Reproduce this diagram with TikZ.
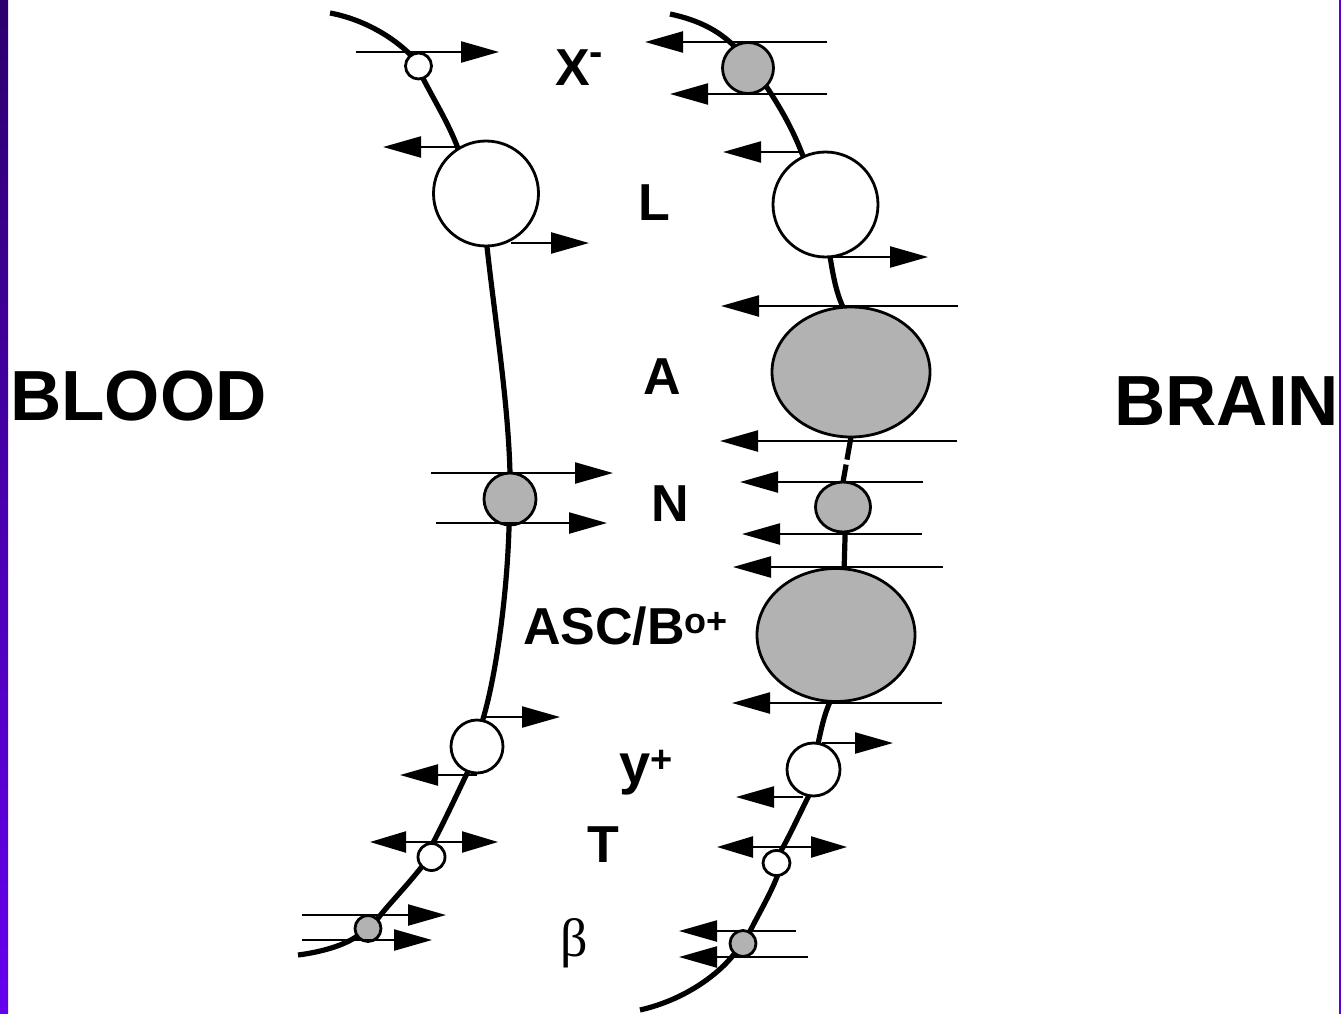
\documentclass[tikz,border=0pt]{standalone}
\usepackage{fontspec}
\setmainfont{Liberation Sans}
\newfontfamily\serifgreek{Liberation Serif}
\usetikzlibrary{arrows.meta,shapes.geometric}
\pgfdeclarelayer{paper}
\pgfdeclarelayer{bg}
\pgfsetlayers{paper,bg,main}
\definecolor{stip}{gray}{0.70}
\definecolor{purpT}{HTML}{2C006E}
\definecolor{purpB}{HTML}{6600EE}
\definecolor{purpR}{HTML}{5A00D0}
\begin{document}
\begin{tikzpicture}[x=1pt,y=-1pt,
  mem/.style={line width=5.2pt},
  ring/.style={circle,draw,line width=2.8pt,fill=white,inner sep=0pt,outer sep=0pt},
  gring/.style={ring,fill=stip},
  oring/.style={ellipse,draw,line width=2.8pt,fill=white,inner sep=0pt,outer sep=0pt},
  oval/.style={ellipse,draw,line width=2.8pt,fill=stip,inner sep=0pt,outer sep=0pt},
  arr/.style={line width=2.3pt,-{Triangle[length=38pt,width=21pt]}},
  darr/.style={line width=2.3pt,{Triangle[length=36pt,width=21pt]}-{Triangle[length=36pt,width=21pt]}},
  lab/.style={font=\bfseries\fontsize{52}{60}\selectfont,anchor=base west,inner sep=0pt},
  big/.style={font=\bfseries\fontsize{71}{80}\selectfont,anchor=base west,inner sep=0pt}]

\useasboundingbox (0,0) rectangle (1341,1014);
\begin{pgfonlayer}{paper}
\fill[white] (0,0) rectangle (1341,1014);
\shade[top color=purpT,bottom color=purpB] (0,0) rectangle (8,1014);
\fill[purpR] (1339,0) rectangle (1341,1014);
\end{pgfonlayer}

% ---------- left membrane transporters ----------
\node[ring,minimum size=26pt] (lX) at (418.5,66) {};
\node[ring,minimum size=105pt] (lL) at (486,193.5) {};
\node[gring,minimum size=52pt] (lN) at (510,499) {};
\node[oring,minimum width=52pt,minimum height=53pt] (lY) at (477,746.5) {};
\node[ring,minimum size=27pt] (lT) at (431.5,857) {};
\node[gring,minimum size=26pt] (lB) at (368,928.5) {};

% ---------- right membrane transporters ----------
\node[gring,minimum size=51pt] (rX) at (748,68) {};
\node[ring,minimum size=105pt] (rL) at (825.5,204.5) {};
\node[oval,minimum width=158pt,minimum height=130pt] (rA) at (851,372) {};
\node[oval,minimum width=55pt,minimum height=50pt] (rN) at (843,507) {};
\node[oval,minimum width=158pt,minimum height=133pt] (rASC) at (836,635) {};
\node[oring,minimum width=53pt,minimum height=53pt] (rY) at (813.5,769.5) {};
\node[oring,minimum width=27pt,minimum height=25pt] (rT) at (776.5,863) {};
\node[gring,minimum size=26pt] (rB) at (743,943.5) {};

% ---------- membranes (behind the transporters) ----------
\begin{pgfonlayer}{bg}
\draw[mem] (330,13) .. controls (362,19) and (392,36) .. (lX.125)
  (lX.-70) .. controls (434,100) and (449,124) .. (lL.122)
  (lL.-89) .. controls (495,320) and (508,400) .. (lN.90)
  (lN.-92) .. controls (507,600) and (495,680) .. (lY.78)
  (lY.-110) .. controls (459,790) and (445,820) .. (lT.85)
  (lT.-135) .. controls (405,888) and (388,905) .. (lB.45)
  (lB.-145) .. controls (345,945) and (322,952) .. (298,955);
\draw[mem] (670,14) .. controls (698,20) and (718,30) .. (rX.122)
  (rX.-45) .. controls (782,110) and (794,132) .. (rL.115)
  (rL.-85) .. controls (833,275) and (836,292) .. (rA.97);
\draw[mem,dash pattern=on 23pt off 5pt on 40pt] (rA.south) -- (rN.north);
\draw[mem] (rN.-85) -- (rASC.83)
  (rASC.-95) .. controls (824,715) and (821,730) .. (rY.80)
  (rY.-100) .. controls (799,815) and (790,835) .. (rT.70)
  (rT.-85) .. controls (770,895) and (758,915) .. (rB.60)
  (rB.-130) .. controls (718,975) and (684,1000) .. (640,1010);
\end{pgfonlayer}

% ---------- left arrows ----------
\draw[arr] (356,52) -- (499,52);
\draw[arr] (457,147) -- (383,147);
\draw[arr] (511,243) -- (589,243);
\draw[arr] (431,473) -- (613,473);
\draw[arr] (436,523) -- (607,523);
\draw[arr] (483,717) -- (560,717);
\draw[arr] (477,775) -- (400,775);
\draw[darr] (370,842) -- (498,842);
\draw[arr] (302,915) -- (446,915);
\draw[arr] (302,940) -- (432,940);

% ---------- right arrows ----------
\draw[arr] (827,42) -- (645,42);
\draw[arr] (827,94) -- (670,94);
\draw[arr] (802,152) -- (723,152);
\draw[arr] (830,257) -- (928,257);
\draw[arr] (958,306) -- (721,306);
\draw[arr] (957,441) -- (720,441);
\draw[arr] (923,482) -- (740,482);
\draw[arr] (922,534) -- (742,534);
\draw[arr] (943,567) -- (733,567);
\draw[arr] (942,703) -- (732,703);
\draw[arr] (822,743) -- (893,743);
\draw[arr] (803,797) -- (736,797);
\draw[darr] (717,847) -- (847,847);
\draw[arr] (796,931) -- (679,931);
\draw[arr] (808,957) -- (679,957);

% ---------- labels ----------
\node[lab] (tX) at (555,86) {X\raisebox{20pt}{\fontsize{40}{40}\selectfont -}};
\node[lab] (tL) at (638,220) {L};
\node[lab] (tA) at (643,394) {A};
\node[lab] (tN) at (651,521) {N};
\node[lab] (tASC) at (523,644) {ASC/B\raisebox{11pt}{\fontsize{36}{36}\selectfont o+}};
\node[lab] (tY) at (619,783) {{\fontsize{56}{60}\selectfont y}\raisebox{11pt}{\fontsize{38}{38}\selectfont +}};
\node[lab] (tT) at (587,862) {T};
\node[anchor=base west,inner sep=0pt,font=\serifgreek\fontsize{54}{60}\selectfont] (tB) at (560,956) {β};
\node[big] (blood) at (10,420) {BLOOD};
\node[big] (brain) at (1114,425) {BRAIN};
\end{tikzpicture}
\end{document}
